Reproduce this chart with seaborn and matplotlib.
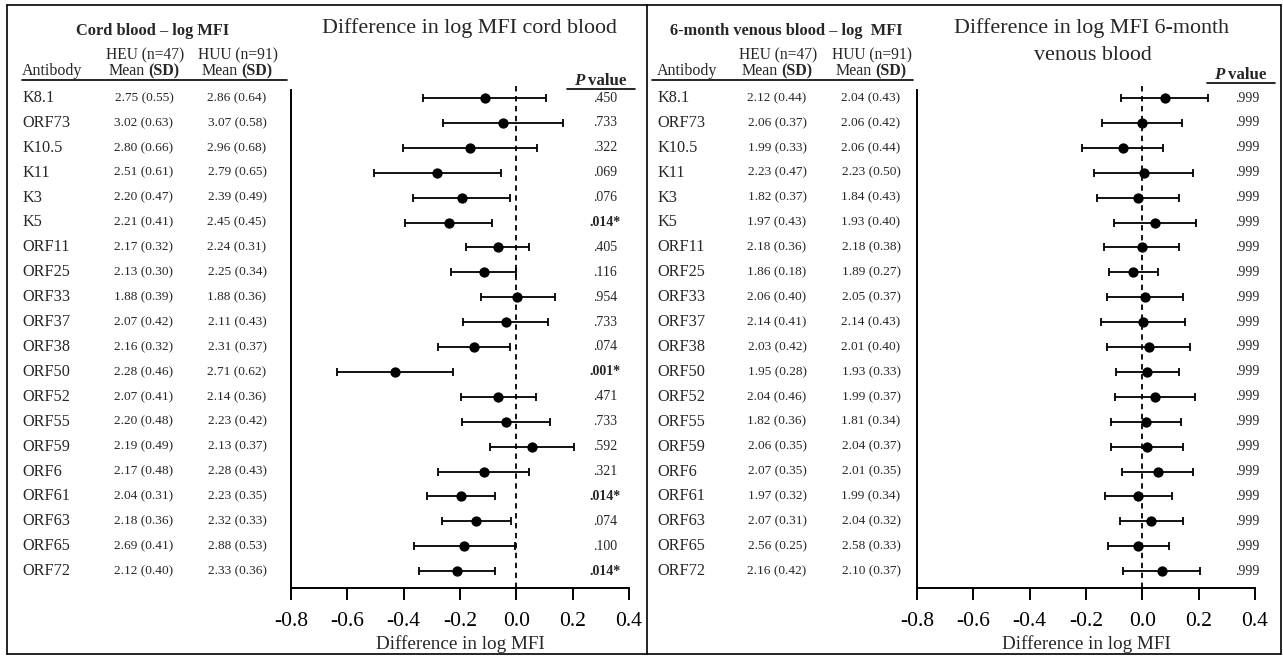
import numpy as np
import pandas as pd
import seaborn as sns
import matplotlib.pyplot as plt
from matplotlib.lines import Line2D
from matplotlib.transforms import blended_transform_factory

W, H = 1283, 656

antibodies = ['K8.1', 'ORF73', 'K10.5', 'K11', 'K3', 'K5', 'ORF11', 'ORF25',
              'ORF33', 'ORF37', 'ORF38', 'ORF50', 'ORF52', 'ORF55', 'ORF59',
              'ORF6', 'ORF61', 'ORF63', 'ORF65', 'ORF72']

# cord blood
cord_heu_mean = [2.75, 3.02, 2.80, 2.51, 2.20, 2.21, 2.17, 2.13, 1.88, 2.07,
                 2.16, 2.28, 2.07, 2.20, 2.19, 2.17, 2.04, 2.18, 2.69, 2.12]
cord_heu_sd = [0.55, 0.63, 0.66, 0.61, 0.47, 0.41, 0.32, 0.30, 0.39, 0.42,
               0.32, 0.46, 0.41, 0.48, 0.49, 0.48, 0.31, 0.36, 0.41, 0.40]
cord_huu_mean = [2.86, 3.07, 2.96, 2.79, 2.39, 2.45, 2.24, 2.25, 1.88, 2.11,
                 2.31, 2.71, 2.14, 2.23, 2.13, 2.28, 2.23, 2.32, 2.88, 2.33]
cord_huu_sd = [0.64, 0.58, 0.68, 0.65, 0.49, 0.45, 0.31, 0.34, 0.36, 0.43,
               0.37, 0.62, 0.36, 0.42, 0.37, 0.43, 0.35, 0.33, 0.53, 0.36]
cord_diff = [-0.113, -0.047, -0.166, -0.280, -0.193, -0.238, -0.065, -0.115,
             0.004, -0.037, -0.149, -0.430, -0.064, -0.036, 0.056, -0.114,
             -0.195, -0.142, -0.185, -0.210]
cord_lo = [-0.330, -0.260, -0.403, -0.506, -0.367, -0.394, -0.179, -0.231,
           -0.127, -0.190, -0.279, -0.635, -0.198, -0.192, -0.094, -0.278,
           -0.317, -0.263, -0.362, -0.346]
cord_hi = [0.106, 0.166, 0.075, -0.055, -0.022, -0.085, 0.046, 0.000,
           0.136, 0.114, -0.022, -0.225, 0.069, 0.120, 0.203, 0.044,
           -0.075, -0.020, -0.006, -0.076]
cord_p = ['.450', '.733', '.322', '.069', '.076', '.014*', '.405', '.116',
          '.954', '.733', '.074', '.001*', '.471', '.733', '.592', '.321',
          '.014*', '.074', '.100', '.014*']

# 6-month venous blood
ven_heu_mean = [2.12, 2.06, 1.99, 2.23, 1.82, 1.97, 2.18, 1.86, 2.06, 2.14,
                2.03, 1.95, 2.04, 1.82, 2.06, 2.07, 1.97, 2.07, 2.56, 2.16]
ven_heu_sd = [0.44, 0.37, 0.33, 0.47, 0.37, 0.43, 0.36, 0.18, 0.40, 0.41,
              0.42, 0.28, 0.46, 0.36, 0.35, 0.35, 0.32, 0.31, 0.25, 0.42]
ven_huu_mean = [2.04, 2.06, 2.06, 2.23, 1.84, 1.93, 2.18, 1.89, 2.05, 2.14,
                2.01, 1.93, 1.99, 1.81, 2.04, 2.01, 1.99, 2.04, 2.58, 2.10]
ven_huu_sd = [0.43, 0.42, 0.44, 0.50, 0.43, 0.40, 0.38, 0.27, 0.37, 0.43,
              0.40, 0.33, 0.37, 0.34, 0.37, 0.35, 0.34, 0.32, 0.33, 0.37]
ven_diff = [0.079, 0.000, -0.070, 0.005, -0.015, 0.046, 0.000, -0.033,
            0.011, 0.001, 0.024, 0.018, 0.045, 0.013, 0.017, 0.056,
            -0.015, 0.032, -0.014, 0.069]
ven_lo = [-0.075, -0.143, -0.213, -0.171, -0.162, -0.100, -0.135, -0.117,
          -0.126, -0.148, -0.124, -0.094, -0.097, -0.111, -0.113, -0.071,
          -0.133, -0.081, -0.123, -0.069]
ven_hi = [0.233, 0.142, 0.075, 0.180, 0.130, 0.191, 0.130, 0.054,
          0.143, 0.150, 0.168, 0.130, 0.187, 0.136, 0.146, 0.179,
          0.104, 0.145, 0.096, 0.206]
ven_p = ['.999'] * 20

x_ticks = [-0.8, -0.6, -0.4, -0.2, 0.0, 0.2, 0.4]
x_tick_labels = ['-0.8', '-0.6', '-0.4', '-0.2', '0.0', '0.2', '0.4']

sns.set_theme(style='ticks')
plt.rcParams['font.family'] = ['Liberation Serif', 'DejaVu Serif']
plt.rcParams['axes.unicode_minus'] = False

fig = plt.figure(figsize=(W / 100, H / 100), dpi=100)
fig.patch.set_facecolor('white')


def fx(x):
    return x / W


def fy(y):
    return 1 - y / H


def line(x0, x1, y0, y1, lw=1.2):
    fig.add_artist(Line2D([fx(x0), fx(x1)], [fy(y0), fy(y1)],
                          color='black', lw=lw))


def panel(ax_left, name_x, heu_x, huu_x, p_x, ph_x, ph_y, tab_title,
          diff, lo, hi, heu_m, heu_sd, huu_m, huu_sd, pvals, line_left):
    row0, step = 98, 24.9
    top = (85 - row0) / step
    bottom = (588 - row0) / step
    ax = fig.add_axes([fx(ax_left), fy(588), 338 / W, 503 / H])
    pos = np.arange(len(antibodies))
    df = pd.DataFrame({'diff': diff, 'pos': pos})

    ax.axvline(0, color='black', lw=1.3, ls=(0, (3, 2.5)), zorder=1)
    ax.errorbar(diff, pos,
                xerr=[np.array(diff) - np.array(lo), np.array(hi) - np.array(diff)],
                fmt='none', ecolor='black', elinewidth=1.3, capsize=3.2,
                capthick=1.3, zorder=2)
    sns.scatterplot(data=df, x='diff', y='pos', ax=ax, color='black', s=55,
                    edgecolor='black', linewidth=0, zorder=3)

    ax.set_xlim(-0.8, 0.4)
    ax.set_ylim(bottom, top)
    ax.set_xticks(x_ticks)
    ax.set_xticklabels(x_tick_labels)
    ax.set_yticks([])
    ax.set_ylabel('')
    ax.set_xlabel('Difference in log MFI', fontsize=13.8, labelpad=3)
    ax.tick_params(axis='x', direction='out', length=8.6, width=1.4,
                   labelsize=15.5, pad=9, colors='black')
    sns.despine(ax=ax)
    for s in ['left', 'bottom']:
        ax.spines[s].set_linewidth(1.4)
        ax.spines[s].set_color('black')
    ax.spines['left'].set_bounds(bottom, (90 - row0) / step)
    ax.set_facecolor('none')

    tr = blended_transform_factory(fig.transFigure, ax.transData)
    for i, name in enumerate(antibodies):
        ax.text(fx(name_x), i, name, transform=tr, fontsize=11.7,
                ha='left', va='center', clip_on=False)
        ax.text(fx(heu_x), i, f'{heu_m[i]:.2f} ({heu_sd[i]:.2f})',
                transform=tr, fontsize=9.6, ha='center', va='center')
        ax.text(fx(huu_x), i, f'{huu_m[i]:.2f} ({huu_sd[i]:.2f})',
                transform=tr, fontsize=9.6, ha='center', va='center')
        bold = pvals[i].endswith('*')
        ax.text(fx(p_x), i, pvals[i], transform=tr, fontsize=10,
                ha='center', va='center',
                fontweight='bold' if bold else 'normal')

    # table header
    fig.text(fx((heu_x + huu_x) / 2 - 37.5), fy(31), tab_title, fontsize=11.8,
             fontweight='bold', ha='center', va='center')
    fig.text(fx(heu_x + 1), fy(55), 'HEU (n=47)', fontsize=11.2,
             ha='center', va='center')
    fig.text(fx(huu_x + 1), fy(55), 'HUU (n=91)', fontsize=11.2,
             ha='center', va='center')
    fig.text(fx(name_x), fy(71), 'Antibody', fontsize=11.5,
             ha='left', va='center')
    for cx in [heu_x, huu_x]:
        fig.text(fx(cx + 0.7), fy(71), 'Mean', fontsize=11.5,
                 ha='right', va='center')
        fig.text(fx(cx + 4.7), fy(71), '(SD)', fontsize=11.5,
                 fontweight='bold', ha='left', va='center')
    line(line_left, ax_left - 4, 80, 80)

    # P value header
    fig.text(fx(ph_x - 16.2), fy(ph_y), 'P', fontsize=12.2, fontweight='bold',
             fontstyle='italic', ha='right', va='center')
    fig.text(fx(ph_x - 12), fy(ph_y), 'value', fontsize=12.2,
             fontweight='bold', ha='left', va='center')
    line(ph_x - 33, ph_x + 35, ph_y + 8, ph_y + 8)
    return ax


panel(291, 22, 144, 237, 605, 600, 81, 'Cord blood \u2013 log MFI',
      cord_diff, cord_lo, cord_hi, cord_heu_mean, cord_heu_sd,
      cord_huu_mean, cord_huu_sd, cord_p, 22)
panel(917, 657, 777, 871, 1247, 1240, 75, '6-month venous blood \u2013 log  MFI',
      ven_diff, ven_lo, ven_hi, ven_heu_mean, ven_heu_sd,
      ven_huu_mean, ven_huu_sd, ven_p, 652)

fig.text(fx(469), fy(28), 'Difference in log MFI cord blood', fontsize=15.8,
         ha='center', va='center')
fig.text(fx(1092), fy(28), 'Difference in log MFI 6-month', fontsize=15.8,
         ha='center', va='center')
fig.text(fx(1093), fy(55), 'venous blood', fontsize=15.8,
         ha='center', va='center')

# frame around both panels
line(7, 1281, 5, 5)
line(7, 1281, 654, 654)
line(7, 7, 5, 654)
line(1281, 1281, 5, 654)
line(647, 647, 5, 654)

fig.savefig('out.png', dpi=100)
